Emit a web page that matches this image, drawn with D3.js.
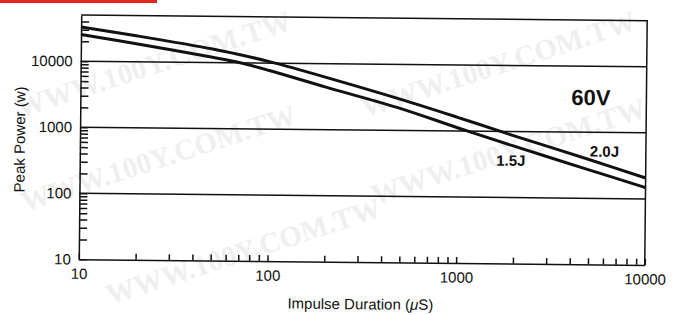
<!DOCTYPE html>
<html>
<head>
<meta charset="utf-8">
<script src="https://cdn.jsdelivr.net/npm/d3@7"></script>
<style>
    body { margin: 0; background: #fff; }
    svg { display: block; font-family: "Liberation Sans", Arial, Helvetica, sans-serif; }
    .axis path, .axis line { stroke: #111; stroke-width: 1.5; }
    .axis text { fill: #111; font-size: 15px; }
</style>
</head>
<body>
<div id="chart"></div>
<script>
/*
peak power vs impulse duration, 60V part, two energy curves
 */

//data:
var durations = [10, 20, 50, 70, 100, 200, 500, 1000, 2000, 5000, 10000];
var power20J = [33000, 24500, 16000, 13200, 10500, 6200, 2950, 1610, 860, 387, 207];
var power15J = [25400, 18500, 12000, 10000, 7700, 4400, 2140, 1120, 600, 270, 148];
var seriesLabels = ["2.0J", "1.5J"];
var xTickLabels = [10, 100, 1000, 10000];
var yTickLabels = [10, 100, 1000, 10000];

var width = 688, height = 315;

var svg = d3.select("#chart")
    .append("svg")
    .attr("width", width)
    .attr("height", height);

//red strip top left
svg.append("rect")
    .attr("x", 0).attr("y", 0)
    .attr("width", 157).attr("height", 3)
    .attr("fill", "#e2261f");

//watermark
var marks = [[20, 118], [365, 118], [25, 212], [375, 205], [110, 305]];
svg.append("g").selectAll("text")
    .data(marks)
    .enter().append("text")
    .attr("transform", function (d) { return "translate(" + d[0] + "," + d[1] + ") rotate(-18)"; })
    .attr("font-family", "'Liberation Serif', 'DejaVu Serif', serif")
    .attr("font-weight", "bold")
    .attr("font-size", 29)
    .attr("fill", "#efefef")
    .text("WWW.100Y.COM.TW");

//the scan is slightly tilted, so rotate the whole chart
var chart = svg.append("g")
    .attr("transform", "rotate(0.57, 80, 137)");

var plotLeft = 80, plotTop = 15;
var panelWidth = 566, panelHeight = 244.3;

var panel = chart.append("g")
    .attr("transform", "translate(" + plotLeft + "," + plotTop + ")");

//scales
var xScale = d3.scaleLog().domain([10, 10000]).range([0, panelWidth]);
var yScale = d3.scaleLog().domain([10, 50000]).range([panelHeight, 0]);

//tick values 1..9 of each decade
function logTicks(lo, hi) {
    var t = [];
    for (var p = lo; p < hi; p *= 10) {
        for (var k = 1; k < 10; k++) {
            if (p * k <= hi) t.push(p * k);
        }
    }
    return t;
}

function fmt(list) {
    return function (d) { return list.indexOf(d) >= 0 ? d : ""; };
}

var xAxis = d3.axisBottom(xScale)
    .tickValues(logTicks(10, 10000).concat([10000]))
    .tickFormat(fmt(xTickLabels))
    .tickSizeInner(-6)
    .tickSizeOuter(0)
    .tickPadding(9);

var yAxis = d3.axisLeft(yScale)
    .tickValues(logTicks(10, 40000))
    .tickFormat(fmt(yTickLabels))
    .tickSizeInner(-8)
    .tickSizeOuter(0)
    .tickPadding(8);

//gridlines on the decades
panel.append("g")
    .selectAll("line")
    .data(yTickLabels.slice(1))
    .enter().append("line")
    .attr("x1", 0)
    .attr("x2", panelWidth)
    .attr("y1", function (d) { return yScale(d); })
    .attr("y2", function (d) { return yScale(d); })
    .attr("stroke", "#111")
    .attr("stroke-width", 1.5);

//frame top and right
panel.append("path")
    .attr("d", "M0,0H" + panelWidth + "V" + panelHeight)
    .attr("fill", "none")
    .attr("stroke", "#111")
    .attr("stroke-width", 1.5);

panel.append("g")
    .attr("class", "axis")
    .attr("transform", "translate(0," + panelHeight + ")")
    .call(xAxis);

panel.append("g")
    .attr("class", "axis")
    .call(yAxis);

//curves
var line = d3.line()
    .x(function (d) { return xScale(d[0]); })
    .y(function (d) { return yScale(d[1]); })
    .curve(d3.curveCatmullRom.alpha(0.5));

[power20J, power15J].forEach(function (vals) {
    panel.append("path")
        .datum(durations.map(function (d, i) { return [d, vals[i]]; }))
        .attr("d", line)
        .attr("fill", "none")
        .attr("stroke", "#111")
        .attr("stroke-width", 3);
});

//curve labels
chart.append("text")
    .attr("x", 590).attr("y", 151.5)
    .attr("font-size", 15).attr("font-weight", "bold")
    .attr("fill", "#111")
    .text(seriesLabels[0]);

chart.append("text")
    .attr("x", 496.5).attr("y", 161.5)
    .attr("font-size", 15).attr("font-weight", "bold")
    .attr("fill", "#111")
    .text(seriesLabels[1]);

chart.append("text")
    .attr("x", 571).attr("y", 100)
    .attr("font-size", 22).attr("font-weight", "bold")
    .attr("fill", "#111")
    .text("60V");

//axis titles
var xTitle = chart.append("text")
    .attr("x", plotLeft + panelWidth / 2 - 1)
    .attr("y", 306.5)
    .attr("text-anchor", "middle")
    .attr("font-size", 15)
    .attr("fill", "#111");
xTitle.append("tspan").text("Impulse Duration (");
xTitle.append("tspan").attr("font-style", "italic").text("\u03bc");
xTitle.append("tspan").text("S)");

chart.append("text")
    .attr("transform", "translate(25,140) rotate(-90)")
    .attr("text-anchor", "middle")
    .attr("font-size", 15)
    .attr("fill", "#111")
    .text("Peak Power (w)");
</script>
</body>
</html>
